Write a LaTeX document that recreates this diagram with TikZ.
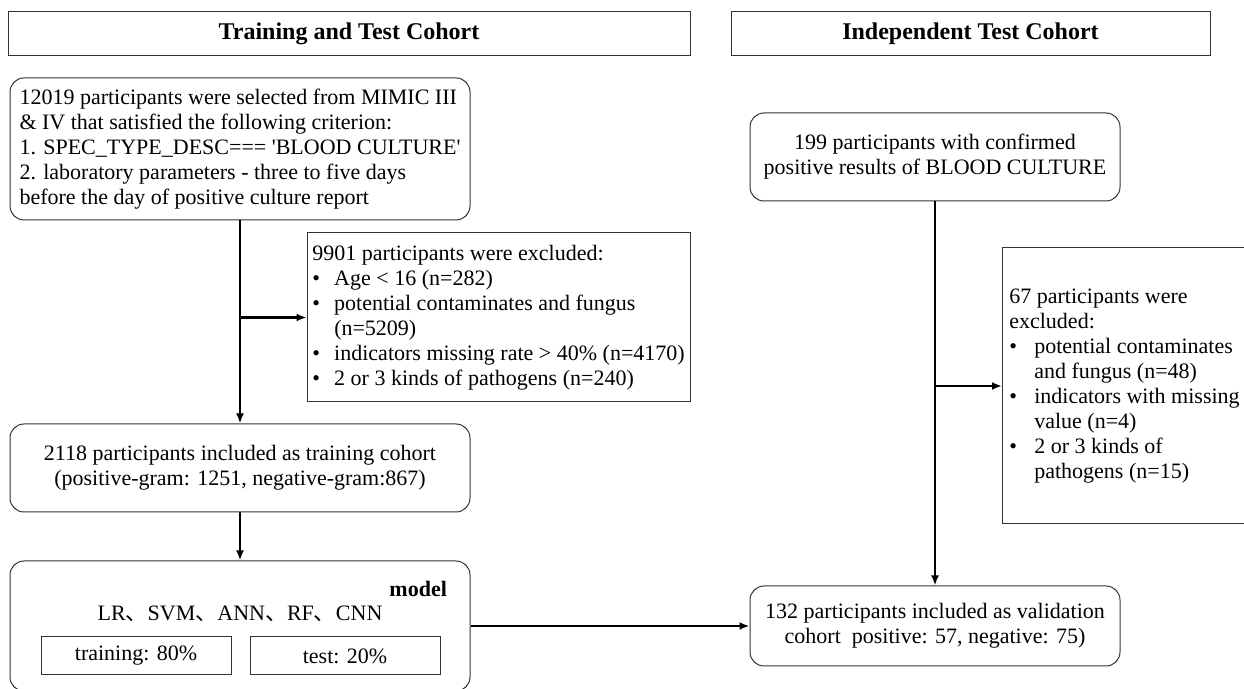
\documentclass[tikz,border=0pt]{standalone}
\usepackage{fontspec}
\setmainfont{Liberation Serif}[Ligatures=TeXOff]
\newfontfamily\cjk{Noto Sans CJK SC}
\usetikzlibrary{arrows.meta}

\newcommand{\bulL}{\makebox[11pt][l]{\textbullet}}
\newcommand{\bulR}{\makebox[12.5pt][l]{\textbullet}}

\begin{document}
\begin{tikzpicture}[x=0.5pt, y=-0.5pt,
    font=\fontsize{11pt}{12.5pt}\selectfont,
    head/.style={draw=black!80, line width=0.5pt, minimum height=22pt, inner sep=0pt,
        font=\fontsize{12pt}{14pt}\selectfont\bfseries},
    rbox/.style={draw=black!80, line width=0.5pt, rounded corners=7pt, align=center, inner sep=0pt},
    sbox/.style={draw=black!80, line width=0.5pt, align=left, inner sep=0pt},
    flow/.style={line width=1.15pt, -{Latex[length=5pt,width=4pt]}}]
    \useasboundingbox (0, 0) rectangle (1244, 689);

    % Headers
    \node[head, minimum width=341pt] (headL) at (349, 34) {Training and Test Cohort};
    \node[head, minimum width=239.5pt] (headR) at (970.5, 34) {Independent Test Cohort};

    % Training and test cohort
    \node[rbox, align=left, minimum width=230pt, minimum height=71pt] (select) at (240, 149)
        {12019 participants were selected from MIMIC III\\
         \& IV that satisfied the following criterion:\\
         1. SPEC\_TYPE\_DESC=== 'BLOOD CULTURE'\\
         2. laboratory parameters - three to five days\\
         before the day of positive culture report};
    \node[sbox, minimum width=191.5pt, minimum height=84.5pt] (exclL) at (498.5, 317.5)
        {9901 participants were excluded:\\
         \bulL Age < 16 (n=282)\\
         \bulL potential contaminates and fungus\\
         \hspace*{11pt}(n=5209)\\
         \bulL indicators missing rate > 40\% (n=4170)\\
         \bulL 2 or 3 kinds of pathogens (n=240)};
    \node[rbox, minimum width=230pt, minimum height=44pt] (train) at (240, 468)
        {2118 participants included as training cohort\\
         (positive-gram: 1251, negative-gram:867)};
    \node[rbox, minimum width=230pt, minimum height=65pt] (model) at (240, 626) {};
    \node[anchor=east, font=\fontsize{11pt}{12.5pt}\selectfont\bfseries] (modelLbl) at (454, 589) {model};
    \node (algos) at (240, 614) {LR{\cjk 、}SVM{\cjk 、}ANN{\cjk 、}RF{\cjk 、}CNN};
    \node[sbox, align=center, minimum width=95pt, minimum height=19pt] (trainPart) at (136, 656) {training: 80\%};
    \node[sbox, align=center, minimum width=95pt, minimum height=19pt] (testPart) at (345, 656) {test: 20\%};

    % Independent test cohort
    \node[rbox, minimum width=185pt, minimum height=44pt] (extern) at (935, 157)
        {199 participants with confirmed\\
         positive results of BLOOD CULTURE};
    \node[sbox, anchor=west, minimum width=122pt, minimum height=138pt] (exclR) at (1002, 386)
        {67 participants were\\
         excluded:\\
         \bulR potential contaminates\\
         \hspace*{12.5pt}and fungus (n=48)\\
         \bulR indicators with missing\\
         \hspace*{12.5pt}value (n=4)\\
         \bulR 2 or 3 kinds of\\
         \hspace*{12.5pt}pathogens (n=15)};
    \node[rbox, minimum width=185pt, minimum height=40pt] (valid) at (935, 626)
        {132 participants included as validation\\
         cohort\ \ positive: 57, negative: 75)};

    % Connections
    \draw[flow] (select) -- (train);
    \draw[flow] (select.south |- exclL.west) -- (exclL.west);
    \draw[flow] (train) -- (model);
    \draw[flow] (extern) -- (valid);
    \draw[flow] (extern.south |- exclR.west) -- (exclR.west);
    \draw[flow] (model) -- (valid);
\end{tikzpicture}
\end{document}
